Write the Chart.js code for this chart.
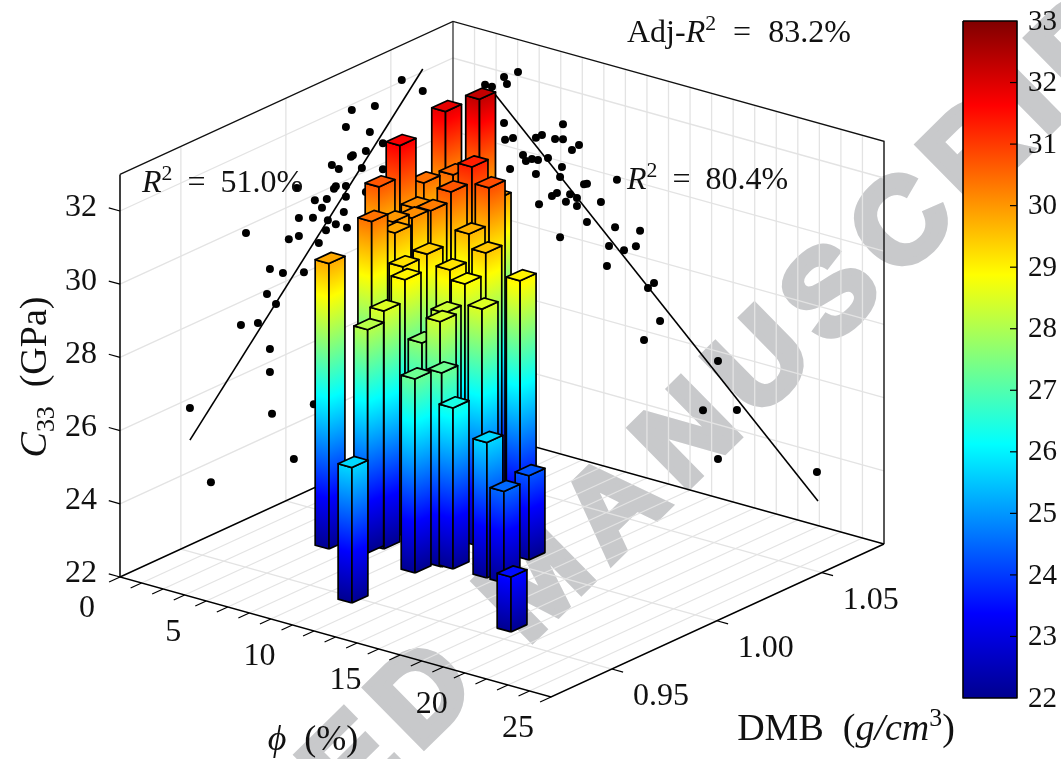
<!DOCTYPE html>
<html>
<head>
<meta charset="utf-8">
<script src="https://cdn.jsdelivr.net/npm/chart.js@4/dist/chart.umd.js"></script>
<style>
  html, body { margin: 0; padding: 0; background: #fff; }
  canvas { display: block; }
</style>
</head>
<body>
<canvas id="chart" width="1061" height="759"></canvas>
<script>
// bars: porosity (%), DMB (g/cm3), C33 (GPa)
const barPhi = [4.95, 10.02, 6.93, 4.92, 9.94, 11.0, 12.93, 13.94, 13.03, 18.04, 10.43, 9.51, 10.32, 10.91, 6.67, 8.88, 8.92, 7.4, 6.6, 5.91, 6.32, 7.66, 6.84, 4.67, 3.26, 3.71, 3.32, 3.77, 4.56, 5.24, 4.93, 4.57, 6.16, 8.1, 4.48, 6.23, 6.66, 8.51, 8.71];
const barDmb = [0.9804, 0.9497, 0.9903, 1.001, 0.9804, 0.9898, 0.9901, 0.9899, 1.0093, 0.9596, 0.9891, 0.9959, 1.0092, 1.0225, 1.0025, 1.0129, 1.0225, 1.027, 1.0135, 1.021, 1.0273, 1.0344, 1.033, 1.0544, 1.0498, 1.0244, 1.0176, 1.0353, 1.0246, 1.0176, 1.012, 1.014, 1.0057, 1.0122, 1.0434, 1.049, 0.9848, 0.9955, 1.0048];
const barC33 = [29.8, 25.7, 28.5, 30.4, 27.3, 26.4, 25.7, 24.5, 24.3, 23.5, 27.3, 28.4, 28.5, 29.0, 29.0, 28.9, 29.5, 29.7, 29.4, 30.3, 30.7, 30.8, 31.3, 32.3, 31.9, 31.7, 30.7, 30.4, 30.1, 30.1, 29.8, 30.0, 29.2, 29.2, 30.5, 29.9, 28.1, 27.7, 28.3];

// dots on the left wall: C33 against DMB
const wallDmb = [1.0552, 1.0652, 1.0314, 1.0424, 1.0286, 1.04, 1.0462, 1.0381, 1.0319, 1.031, 1.0219, 1.0252, 1.0462, 1.0362, 1.0238, 1.0229, 1.0286, 1.0286, 1.0138, 1.0195, 1.0172, 1.0276, 1.0129, 1.0062, 1.02, 1.0238, 1.0291, 1.0191, 1.0062, 1.0157, 1.0086, 1.0052, 0.981, 1.0014, 0.9924, 0.9986, 0.991, 0.9953, 0.9786, 0.9867, 0.9924, 0.9924, 0.9934, 0.9543, 0.9643, 1.0038, 1.0133, 1.0381];
const wallDmbC33 = [32.04, 31.48, 31.85, 31.67, 31.46, 31.02, 30.55, 30.55, 30.6, 30.58, 30.6, 30.4, 29.84, 30.14, 29.97, 29.92, 29.85, 29.55, 29.85, 29.73, 29.55, 29.16, 29.39, 29.56, 29.14, 28.93, 28.69, 28.89, 29.07, 28.63, 28.02, 30.41, 29.82, 29.11, 28.53, 28.26, 27.89, 27.5, 27.37, 27.21, 26.35, 25.72, 24.55, 25.74, 23.45, 23.04, 24.29, 29.43];

// dots on the right wall: C33 against porosity
const wallPhi = [3.77, 2.96, 3.13, 1.86, 2.26, 2.96, 6.38, 3.02, 3.48, 5.16, 4.81, 5.92, 6.38, 7.31, 6.9, 4.06, 4.58, 4.23, 4.93, 5.51, 6.32, 3.31, 4.81, 6.21, 9.51, 7.6, 7.77, 6.79, 5.74, 6.03, 7.19, 8.58, 6.55, 4.99, 7.19, 7.77, 9.4, 10.85, 6.21, 9.05, 10.61, 9.92, 8.93, 11.66, 11.31, 12.01, 11.08, 15.37, 14.5, 16.47, 15.37, 21.11];
const wallPhiC33 = [32.11, 31.87, 31.7, 31.51, 31.51, 30.61, 31.03, 30.16, 30.27, 30.57, 30.45, 30.56, 30.62, 30.58, 30.39, 29.88, 29.84, 29.74, 29.86, 29.99, 29.85, 29.4, 29.46, 29.56, 29.92, 29.55, 29.58, 29.17, 28.98, 29.1, 29.12, 29.19, 28.93, 28.66, 28.9, 28.54, 28.61, 28.7, 27.92, 28.05, 28.25, 28.05, 27.49, 27.38, 27.2, 26.39, 25.75, 25.74, 24.28, 24.54, 23.06, 23.46];

// fitted lines
const fitDmb = [0.9543, 1.0652];
const fitDmbC33 = [24.86, 32.08];
const fitPhi = [2.15, 21.17];
const fitPhiC33 = [31.46, 22.67];

// ticks
const c33Ticks = [22, 24, 26, 28, 30, 32];
const phiTicks = [0, 5, 10, 15, 20, 25];
const dmbTicks = [0.95, 1.00, 1.05];
const colorbarTicks = [22, 23, 24, 25, 26, 27, 28, 29, 30, 31, 32, 33];

// axis limits and layout
const phiMin = 0, phiMax = 25, phiStep = 1.25;
const dmbMin = 0.921, dmbMax = 1.0796;
const c33Min = 22, c33Max = 33;
const barW = 0.4, barD = 0.0038;
const corner = { x: 120, y: 577 };
const phiVec = { x: 431, y: 120 };
const dmbVec = { x: 333, y: -153 };
const c33Len = 402.6;
const cbar = { left: 963, right: 1017, top: 21, bottom: 698 };

const GRID = '#e3e3e3';
const SERIF = '"Liberation Serif", serif';

function project(phi, dmb, c33) {
  const s = (phi - phiMin) / (phiMax - phiMin);
  const t = (dmb - dmbMin) / (dmbMax - dmbMin);
  const h = (c33 - c33Min) / (c33Max - c33Min);
  return {
    x: corner.x + s * phiVec.x + t * dmbVec.x,
    y: corner.y + s * phiVec.y + t * dmbVec.y - h * c33Len
  };
}

const jetStops = [
  [0, '#00008f'], [0.125, '#0000ff'], [0.375, '#00ffff'],
  [0.625, '#ffff00'], [0.875, '#ff0000'], [1, '#800000']
];

function jetAt(c33) {
  const v = (c33 - c33Min) / (c33Max - c33Min);
  const rgb = h => [1, 3, 5].map(i => parseInt(h.substr(i, 2), 16));
  for (let i = 1; i < jetStops.length; i++) {
    if (v <= jetStops[i][0]) {
      const f = (v - jetStops[i - 1][0]) / (jetStops[i][0] - jetStops[i - 1][0]);
      const a = rgb(jetStops[i - 1][1]), b = rgb(jetStops[i][1]);
      return 'rgb(' + a.map((c, k) => Math.round(c + (b[k] - c) * f)).join(',') + ')';
    }
  }
  return jetStops[jetStops.length - 1][1];
}

const canvas = document.getElementById('chart');
const ctx2d = canvas.getContext('2d');

// color bands follow the face, so the gradient runs across the slanted edge direction
function faceGradient(base, along) {
  const len = Math.hypot(along.x, along.y);
  const nx = along.y / len, ny = -along.x / len;
  const up = ny < 0 ? 1 : -1;
  const l = c33Len * Math.abs(ny);
  const g = ctx2d.createLinearGradient(base.x, base.y, base.x + up * nx * l, base.y + up * ny * l);
  jetStops.forEach(s => g.addColorStop(s[0], s[1]));
  return g;
}

function lineSet(points, color, width) {
  return {
    data: points, showLine: true, fill: false, borderColor: color, borderWidth: width,
    pointRadius: 0, tension: 0, clip: false
  };
}

function faceSet(points, bg, width) {
  return {
    data: points.concat([points[0]]), showLine: true, fill: 'shape', backgroundColor: bg,
    borderColor: '#000', borderWidth: width, borderJoinStyle: 'round',
    pointRadius: 0, tension: 0, clip: false
  };
}

function dotSet(points) {
  return {
    data: points, showLine: false, pointRadius: 4, pointBorderWidth: 0,
    pointBackgroundColor: '#000', clip: false
  };
}

const sets = [];

// grid on floor and walls
for (let p = phiMin + phiStep; p < phiMax; p += phiStep) {
  sets.push(lineSet([project(p, dmbMin, c33Min), project(p, dmbMax, c33Min)], GRID, 1.3));
  sets.push(lineSet([project(p, dmbMax, c33Min), project(p, dmbMax, c33Max)], GRID, 1.3));
}
dmbTicks.forEach(d => {
  sets.push(lineSet([project(phiMin, d, c33Min), project(phiMax, d, c33Min)], GRID, 1.3));
  sets.push(lineSet([project(phiMin, d, c33Min), project(phiMin, d, c33Max)], GRID, 1.3));
});
c33Ticks.slice(1).forEach(c => {
  sets.push(lineSet([project(phiMin, dmbMin, c), project(phiMin, dmbMax, c), project(phiMax, dmbMax, c)], GRID, 1.3));
});

// box edges
sets.push(lineSet([project(phiMin, dmbMin, c33Max), project(phiMin, dmbMax, c33Max), project(phiMax, dmbMax, c33Max), project(phiMax, dmbMax, c33Min)], '#111', 1.4));
sets.push(lineSet([project(phiMin, dmbMax, c33Max), project(phiMin, dmbMax, c33Min)], '#333', 1.3));
sets.push(lineSet([project(phiMin, dmbMin, c33Min), project(phiMin, dmbMax, c33Min), project(phiMax, dmbMax, c33Min)], '#000', 1.4));
sets.push(lineSet([project(phiMin, dmbMin, c33Max), project(phiMin, dmbMin, c33Min), project(phiMax, dmbMin, c33Min), project(phiMax, dmbMax, c33Min)], '#000', 1.5));

// ticks
c33Ticks.forEach(c => sets.push(lineSet([project(phiMin, dmbMin, c), project(phiMin - 0.65, dmbMin, c)], '#000', 1.2)));
dmbTicks.forEach(d => sets.push(lineSet([project(phiMax, d, c33Min), project(phiMax + 0.65, d, c33Min)], '#000', 1.2)));
for (let p = phiMin; p <= phiMax; p += phiStep) {
  sets.push(lineSet([project(p, dmbMin, c33Min), project(p, dmbMin - 0.0052, c33Min)], '#000', 1.2));
}

// wall data
sets.push(dotSet(wallDmb.map((d, i) => project(phiMin, d, wallDmbC33[i]))));
sets.push(dotSet(wallPhi.map((p, i) => project(p, dmbMax, wallPhiC33[i]))));
sets.push(lineSet(fitDmb.map((d, i) => project(phiMin, d, fitDmbC33[i])), '#000', 1.6));
sets.push(lineSet(fitPhi.map((p, i) => project(p, dmbMax, fitPhiC33[i])), '#000', 1.6));

// bars, back to front
barPhi.map((p, i) => i)
  .sort((a, b) => project(barPhi[a], barDmb[a], c33Min).y - project(barPhi[b], barDmb[b], c33Min).y)
  .forEach(i => {
    const x0 = barPhi[i] - barW, x1 = barPhi[i] + barW;
    const y0 = barDmb[i] - barD, y1 = barDmb[i] + barD;
    const c = barC33[i];
    const front = project(x1, y0, c33Min);
    const leftEnd = project(x0, y0, c33Min);
    const rightEnd = project(x1, y1, c33Min);
    sets.push(faceSet(
      [front, project(x1, y0, c), project(x0, y0, c), leftEnd],
      faceGradient(front, { x: front.x - leftEnd.x, y: front.y - leftEnd.y }), 1.7));
    sets.push(faceSet(
      [front, project(x1, y0, c), project(x1, y1, c), rightEnd],
      faceGradient(front, { x: rightEnd.x - front.x, y: rightEnd.y - front.y }), 1.7));
    sets.push(faceSet(
      [project(x1, y0, c), project(x1, y1, c), project(x0, y1, c), project(x0, y0, c)],
      jetAt(c), 1.7));
  });

// colorbar
const cbarY = c => cbar.bottom - (c - c33Min) / (c33Max - c33Min) * (cbar.bottom - cbar.top);
const cbarGrad = ctx2d.createLinearGradient(0, cbar.bottom, 0, cbar.top);
jetStops.forEach(s => cbarGrad.addColorStop(s[0], s[1]));
sets.push(faceSet([
  { x: cbar.left, y: cbar.top }, { x: cbar.right, y: cbar.top },
  { x: cbar.right, y: cbar.bottom }, { x: cbar.left, y: cbar.bottom }
], cbarGrad, 1.6));
colorbarTicks.slice(1, -1).forEach(c => {
  sets.push(lineSet([{ x: cbar.right - 7, y: cbarY(c) }, { x: cbar.right, y: cbarY(c) }], '#000', 1.2));
});

// text made of plain, italic, raised and lowered runs
function runFont(r, size) {
  const s = r.sup || r.sub ? size * 0.68 : size;
  return (r.i ? 'italic ' : '') + s + 'px ' + SERIF;
}

function drawRuns(ctx, runs, x, y, size, align) {
  let w = 0;
  runs.forEach(r => { ctx.font = runFont(r, size); w += ctx.measureText(r.t).width + (r.gap || 0); });
  let cx = align === 'center' ? x - w / 2 : x;
  ctx.textAlign = 'left';
  ctx.textBaseline = 'alphabetic';
  runs.forEach(r => {
    ctx.font = runFont(r, size);
    const dy = r.sup ? -size * 0.38 : r.sub ? size * 0.2 : 0;
    ctx.fillText(r.t, cx, y + dy);
    cx += ctx.measureText(r.t).width + (r.gap || 0);
  });
}

const watermark = {
  id: 'watermark',
  beforeDatasetsDraw(chart) {
    const ctx = chart.ctx;
    const prefix = 'ACCEPTE';
    ctx.save();
    ctx.font = 'bold 120px "Liberation Sans", sans-serif';
    ctx.letterSpacing = '16px';
    ctx.fillStyle = '#c8c9cb';
    ctx.strokeStyle = '#c8c9cb';
    ctx.lineWidth = 7;
    ctx.textAlign = 'left';
    ctx.textBaseline = 'middle';
    const off = ctx.measureText(prefix).width + ctx.measureText('D').width / 2 - 8;
    ctx.translate(426, 698);
    ctx.rotate(-44.5 * Math.PI / 180);
    ctx.fillText('ACCEPTED MANUSCRIPT', -off, 0);
    ctx.strokeText('ACCEPTED MANUSCRIPT', -off, 0);
    ctx.restore();
  }
};

const labels = {
  id: 'labels',
  afterDatasetsDraw(chart) {
    const ctx = chart.ctx;
    ctx.save();
    ctx.fillStyle = '#111';
    ctx.font = '32px ' + SERIF;
    ctx.textBaseline = 'middle';

    ctx.textAlign = 'right';
    c33Ticks.forEach(c => ctx.fillText(String(c), 97, project(phiMin, dmbMin, c).y - 3));

    ctx.textAlign = 'center';
    phiTicks.forEach(p => {
      const a = project(p, dmbMin, c33Min);
      ctx.fillText(String(p), a.x - 33, a.y + 32);
    });
    dmbTicks.forEach(d => {
      const a = project(phiMax, d, c33Min);
      ctx.fillText(d.toFixed(2), a.x + 49, a.y + 28);
    });

    ctx.font = '29px ' + SERIF;
    ctx.textAlign = 'left';
    colorbarTicks.forEach(c => ctx.fillText(String(c), 1028, cbarY(c) + 1));

    const S = 32;
    drawRuns(ctx, [{ t: 'R', i: true }, { t: '2', sup: true, gap: 15 }, { t: '=', gap: 15 }, { t: '51.0%' }], 142, 192, S);
    drawRuns(ctx, [{ t: 'R', i: true }, { t: '2', sup: true, gap: 15 }, { t: '=', gap: 15 }, { t: '80.4%' }], 627, 189, S);
    drawRuns(ctx, [{ t: 'Adj-' }, { t: 'R', i: true }, { t: '2', sup: true, gap: 17 }, { t: '=', gap: 17 }, { t: '83.2%' }], 627, 42, S);
    drawRuns(ctx, [{ t: 'ϕ', i: true }, { t: '  (%)' }], 313, 750, 36, 'center');
    drawRuns(ctx, [{ t: 'DMB  (' }, { t: 'g/cm', i: true }, { t: '3', sup: true }, { t: ')' }], 846, 740, 38, 'center');

    ctx.translate(46, 377);
    ctx.rotate(-Math.PI / 2);
    drawRuns(ctx, [{ t: 'C', i: true }, { t: '33', sub: true }, { t: '  (GPa)' }], 0, 0, 38, 'center');
    ctx.restore();
  }
};

// first dataset is drawn on top, so hand them over reversed
new Chart(canvas, {
  type: 'line',
  data: { datasets: sets.slice().reverse() },
  options: {
    responsive: false,
    animation: false,
    devicePixelRatio: 1,
    layout: { padding: 0, autoPadding: false },
    events: [],
    plugins: { legend: { display: false }, tooltip: { enabled: false } },
    scales: {
      x: { type: 'linear', min: 0, max: 1061, display: false },
      y: { type: 'linear', min: 0, max: 759, reverse: true, display: false }
    }
  },
  plugins: [watermark, labels]
});
</script>
</body>
</html>
